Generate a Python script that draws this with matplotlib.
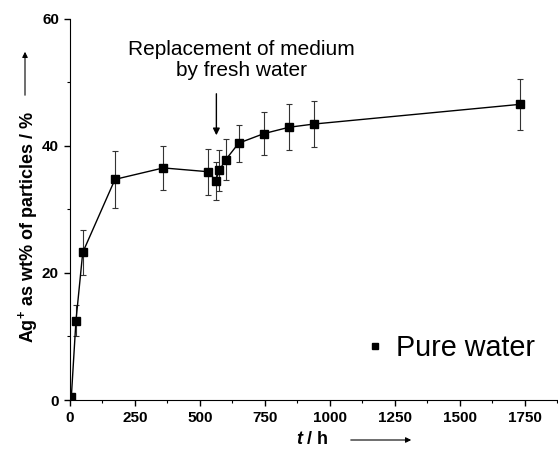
import matplotlib
matplotlib.use('Agg')
import matplotlib.pyplot as plt
from matplotlib.ticker import MultipleLocator

plt.rcParams['font.family'] = ['Liberation Sans', 'DejaVu Sans']
plt.rcParams['mathtext.fontset'] = 'custom'
plt.rcParams['mathtext.rm'] = 'Liberation Sans:bold'
plt.rcParams['mathtext.it'] = 'Liberation Sans:italic:bold'
plt.rcParams['mathtext.bf'] = 'Liberation Sans:bold'

# data
time_h = [5, 23, 49, 173, 359, 532, 560, 574, 599, 649, 746, 843, 938, 1731]
ag_wt = [0.4, 12.5, 23.2, 34.7, 36.5, 35.9, 34.5, 36.1, 37.8, 40.4, 41.9, 42.9, 43.4, 46.5]
ag_err = [0.0, 2.5, 3.5, 4.5, 3.4, 3.6, 3.0, 3.2, 3.2, 2.9, 3.4, 3.6, 3.6, 4.0]
x_ticks = [0, 250, 500, 750, 1000, 1250, 1500, 1750]
y_ticks = [0, 20, 40, 60]
replace_time = 563

W, H = 558, 457
fig = plt.figure(figsize=(W / 100, H / 100), dpi=100)
ax = fig.add_axes([70 / W, 57 / H, 488 / W, 381.5 / H])

ax.errorbar(time_h, ag_wt, yerr=ag_err, fmt='none', ecolor='#333333',
            elinewidth=0.8, capsize=2.5, capthick=0.8, zorder=2)
ax.plot(time_h, ag_wt, color='black', lw=1.0, zorder=3)
ax.plot(time_h, ag_wt, ls='none', marker='s', ms=5.5, color='black', zorder=4,
        label='Pure water')

ax.set_xlim(0, 1877)
ax.set_ylim(0, 60)
ax.set_xticks(x_ticks)
ax.set_yticks(y_ticks)
ax.xaxis.set_minor_locator(MultipleLocator(125))
ax.yaxis.set_minor_locator(MultipleLocator(10))
ax.spines['top'].set_visible(False)
ax.spines['right'].set_visible(False)
ax.tick_params(which='major', direction='out', length=4, width=1, labelsize=11, pad=4)
ax.tick_params(which='minor', direction='out', length=2.5, width=0.8)
for lab in ax.get_xticklabels() + ax.get_yticklabels():
    lab.set_fontweight('bold')

# annotation for the replacement of the medium
ax.text(658, 53.5, 'Replacement of medium\nby fresh water', ha='center', va='center',
        fontsize=15, linespacing=1.15)
ax.annotate('', xy=(replace_time, 41.2), xytext=(replace_time, 48.6),
            arrowprops=dict(arrowstyle='-|>', color='black', lw=1, mutation_scale=10))

ax.legend(loc='center right', bbox_to_anchor=(0.953, 0.136), frameon=False,
          fontsize=20.7, numpoints=1, handlelength=0.5, handletextpad=0.5,
          borderpad=0, borderaxespad=0, markerscale=0.8)

# axis labels with arrows
fig.text(28 / W, 1 - 227.5 / H, 'Ag$^{+}$ as wt% of particles / %', rotation=90,
         ha='center', va='center', fontsize=13, fontweight='bold')
fig.text(312 / W, 1 - 440 / H, '$t$ / h', ha='center', va='center',
         fontsize=13, fontweight='bold')
ax.annotate('', xy=(25, H - 49), xytext=(25, H - 98), xycoords='figure pixels',
            textcoords='figure pixels',
            arrowprops=dict(arrowstyle='-|>', color='black', lw=0.8, mutation_scale=8))
ax.annotate('', xy=(414, H - 440), xytext=(348, H - 440), xycoords='figure pixels',
            textcoords='figure pixels',
            arrowprops=dict(arrowstyle='-|>', color='black', lw=0.8, mutation_scale=8))

fig.savefig('out.png', dpi=100)
